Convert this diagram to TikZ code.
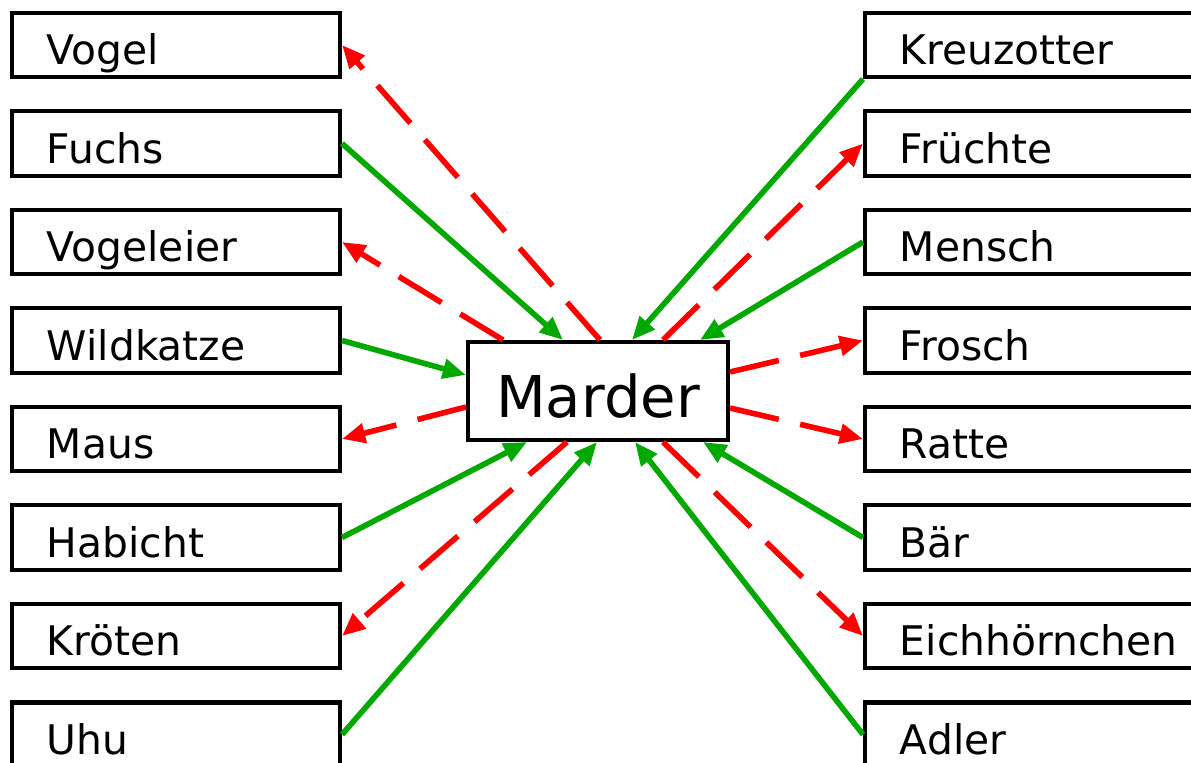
\documentclass[tikz,border=0pt]{standalone}
\usepackage{fontspec}
\setmainfont{DejaVu Sans}
\usetikzlibrary{arrows.meta}
\usetikzlibrary{calc}

\definecolor{feindgruen}{RGB}{0,168,0}
\definecolor{beuterot}{RGB}{255,0,0}

\begin{document}
\begin{tikzpicture}[x=0.025cm, y=-0.025cm,
  >={Triangle[length=0.58cm,width=0.48cm]},
  kasten/.style={draw, line width=0.1cm, inner xsep=0.875cm, inner ysep=0pt, text width=6.45cm, align=left, minimum height=1.6cm, text height=28pt, text depth=0pt, font=\fontsize{29}{34}\selectfont},
  feind/.style={->, feindgruen, line width=0.14cm},
  beute/.style={->, beuterot, line width=0.14cm, dash pattern=on 1.25cm off 0.55cm}]
\useasboundingbox (0,0) rectangle (1191,763);
\clip (0,0) rectangle (1191,763);
\node[kasten] (vogel) at (176,45) {Vogel};
\node[kasten] (fuchs) at (176,143.5) {Fuchs};
\node[kasten] (vogeleier) at (176,242) {Vogeleier};
\node[kasten] (wildkatze) at (176,340.5) {Wildkatze};
\node[kasten] (maus) at (176,439) {Maus};
\node[kasten] (habicht) at (176,537.5) {Habicht};
\node[kasten] (kroeten) at (176,636) {Kröten};
\node[kasten] (uhu) at (176,734.5) {Uhu};
\node[kasten] (kreuzotter) at (1029,45) {Kreuzotter};
\node[kasten] (fruechte) at (1029,143.5) {Früchte};
\node[kasten] (mensch) at (1029,242) {Mensch};
\node[kasten] (frosch) at (1029,340.5) {Frosch};
\node[kasten] (ratte) at (1029,439) {Ratte};
\node[kasten] (baer) at (1029,537.5) {Bär};
\node[kasten] (eichhoernchen) at (1029,636) {Eichhörnchen};
\node[kasten] (adler) at (1029,734.5) {Adler};
\node[draw, line width=0.1cm, minimum width=6.5cm, minimum height=2.45cm, inner sep=0pt, text height=37pt, text depth=0pt, font=\fontsize{41}{48}\selectfont] (marder) at (598,391) {Marder};
\draw[beute] ($(marder.north)+(2,0)$) -- (vogel.east);
\draw[feind] (fuchs.east) -- ($(marder.north)+(-35,0)$);
\draw[beute] ($(marder.north)+(-95,0)$) -- (vogeleier.east);
\draw[feind] (wildkatze.east) -- ($(marder.west)+(0,-16)$);
\draw[beute] ($(marder.west)+(0,16)$) -- (maus.east);
\draw[feind] (habicht.east) -- ($(marder.south)+(-71,0)$);
\draw[beute] ($(marder.south)+(-31,0)$) -- (kroeten.east);
\draw[feind] (uhu.east) -- ($(marder.south)+(-1,0)$);
\draw[feind] (kreuzotter.south west) -- ($(marder.north)+(34,0)$);
\draw[beute] ($(marder.north)+(65,0)$) -- (fruechte.west);
\draw[feind] (mensch.west) -- ($(marder.north)+(102,0)$);
\draw[beute] ($(marder.east)+(0,-19)$) -- (frosch.west);
\draw[beute] ($(marder.east)+(0,17)$) -- (ratte.west);
\draw[feind] (baer.west) -- ($(marder.south)+(105,0)$);
\draw[beute] ($(marder.south)+(65,0)$) -- (eichhoernchen.west);
\draw[feind] (adler.west) -- ($(marder.south)+(37,0)$);
\end{tikzpicture}
\end{document}
